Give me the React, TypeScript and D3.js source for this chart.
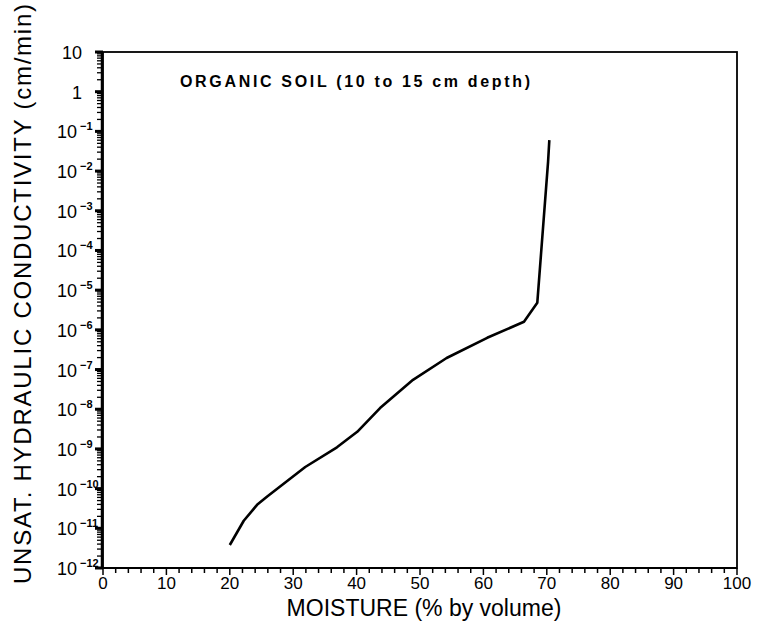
import React, { useRef, useEffect } from 'react';
import * as d3 from 'd3';

// curve: moisture (% by volume) vs conductivity (cm/min)
const moisture = [20, 22.2, 24.3, 25.9, 31.9, 36.9, 40.1, 43.7, 48.9, 54.2, 60.6, 66.4, 68.5, 70.2, 70.4];
const conductivity = [3.8e-12, 1.55e-11, 3.9e-11, 6.3e-11, 3.5e-10, 1.1e-9, 2.7e-9, 1.07e-8, 5.5e-8, 1.95e-7, 6.3e-7, 1.6e-6, 4.8e-6, 1.7e-2, 6.0e-2];

const xTicks = [0, 10, 20, 30, 40, 50, 60, 70, 80, 90, 100];
const yExponents = [1, 0, -1, -2, -3, -4, -5, -6, -7, -8, -9, -10, -11, -12];

const App = () => {
  const ref = useRef<SVGSVGElement>(null);

  useEffect(() => {
    const width = 759;
    const height = 634;
    const left = 103, right = 737, top = 52, bottom = 568;
    const font = "'Liberation Sans', Arial, sans-serif";

    const svg = d3.select(ref.current);
    svg.selectAll('*').remove();

    const x = d3.scaleLinear().domain([0, 100]).range([left, right]);
    const y = d3.scaleLog().domain([1e-12, 10]).range([bottom, top]);

    // frame
    svg.append('rect')
      .attr('x', left).attr('y', top)
      .attr('width', right - left).attr('height', bottom - top)
      .attr('fill', 'none').attr('stroke', 'black').attr('stroke-width', 1.8);
    svg.append('line')
      .attr('x1', left - 1).attr('x2', left - 1).attr('y1', top).attr('y2', bottom)
      .attr('stroke', 'black').attr('stroke-width', 2.5);
    svg.append('line')
      .attr('x1', left).attr('x2', right).attr('y1', bottom).attr('y2', bottom)
      .attr('stroke', 'black').attr('stroke-width', 2.2);

    // x ticks every 2 units, pointing down
    const xMinor = d3.range(0, 101, 2);
    svg.append('g').selectAll('line').data(xMinor).enter().append('line')
      .attr('x1', d => x(d)).attr('x2', d => x(d))
      .attr('y1', bottom).attr('y2', d => bottom + (d % 10 === 0 ? 7 : 5))
      .attr('stroke', 'black').attr('stroke-width', 1.5);

    svg.append('g').selectAll('text').data(xTicks).enter().append('text')
      .attr('x', d => x(d)).attr('y', bottom + 21)
      .attr('text-anchor', 'middle')
      .attr('font-family', font).attr('font-size', 17)
      .text(d => d);

    // y ticks: majors + log minors, on the left of the axis
    const yMinor: number[] = [];
    yExponents.slice(1).forEach(e => {
      for (let m = 1; m < 10; m++) yMinor.push(m * Math.pow(10, e));
    });
    svg.append('g').selectAll('line').data(yMinor).enter().append('line')
      .attr('x1', left - 6).attr('x2', left)
      .attr('y1', d => y(d)).attr('y2', d => y(d))
      .attr('stroke', 'black').attr('stroke-width', 1.3);
    svg.append('g').selectAll('line').data(yExponents).enter().append('line')
      .attr('x1', left - 8).attr('x2', left)
      .attr('y1', d => y(Math.pow(10, d))).attr('y2', d => y(Math.pow(10, d)))
      .attr('stroke', 'black').attr('stroke-width', 3);

    const yLab = svg.append('g').selectAll('text').data(yExponents).enter().append('text')
      .attr('font-family', font).attr('font-size', 18)
      .attr('text-anchor', 'end');
    yLab.each(function (d) {
      const t = d3.select(this);
      const yy = y(Math.pow(10, d)) + 7;
      if (d === 1) {
        t.attr('x', 82).attr('y', yy).text('10');
      } else if (d === 0) {
        t.attr('x', 82).attr('y', yy).text('1');
      } else {
        t.attr('x', 57).attr('y', yy).attr('text-anchor', 'start');
        t.append('tspan').text('10');
        t.append('tspan').attr('dx', 3).attr('dy', -8).attr('font-size', 11)
          .attr('font-weight', 'bold').text(String(d).replace('-', '\u2212'));
      }
    });

    // the curve
    const line = d3.line<number>()
      .x((_, i) => x(moisture[i]))
      .y((_, i) => y(conductivity[i]));
    svg.append('path')
      .datum(moisture)
      .attr('fill', 'none')
      .attr('stroke', 'black')
      .attr('stroke-width', 2.6)
      .attr('stroke-linejoin', 'round')
      .attr('d', line);

    // annotation
    svg.append('text')
      .attr('x', 180).attr('y', 87)
      .attr('font-family', font).attr('font-size', 16).attr('font-weight', 'bold')
      .attr('textLength', 350)
      .text('ORGANIC SOIL (10 to 15 cm depth)');

    // axis titles
    svg.append('text')
      .attr('x', (left + right) / 2 + 4).attr('y', 616)
      .attr('text-anchor', 'middle')
      .attr('font-family', font).attr('font-size', 23)
      .text('MOISTURE (% by volume)');
    svg.append('text')
      .attr('transform', `translate(31,${(top + bottom) / 2 - 16}) rotate(-90)`)
      .attr('text-anchor', 'middle')
      .attr('font-family', font).attr('font-size', 24)
      .attr('textLength', 580)
      .text('UNSAT. HYDRAULIC CONDUCTIVITY (cm/min)');

    svg.attr('width', width).attr('height', height);
  }, []);

  return (
    <svg ref={ref} width={759} height={634}
      style={{ position: 'absolute', left: 0, top: 0, background: 'white' }} />
  );
};

export default App;
